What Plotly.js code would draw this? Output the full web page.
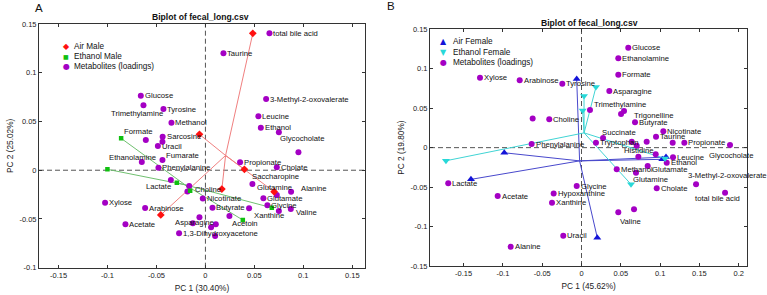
<!DOCTYPE html>
<html>
<head>
<meta charset="utf-8">
<script src="https://cdn.plot.ly/plotly-3.0.1.min.js"></script>
<style>
  html, body { margin: 0; padding: 0; background: #fff; }
  #chart { width: 767px; height: 295px; }
</style>
</head>
<body>
<div id="chart"></div>
<script>
// ---------- Panel A: male groups ----------
const metabNamesA = ["Glucose", "Trimethylamine", "Tyrosine", "Methanol", "Formate", "Sarcosine", "",
  "Uracil", "Fumarate", "Ethanolamine", "Phenylalanine", "Lactate", "Choline", "", "Xylose",
  "Arabinose", "Acetate", "1,3-Dihydroxyacetone", "Asparagine", "", "", "", "", "Nicotinate",
  "Butyrate", "Acetoin", "Xanthine", "Propionate", "Cholate", "", "Saccharopine", "Glutamine",
  "Alanine", "Glutamate", "Glycine", "Valine", "", "total bile acid", "Taurine",
  "3-Methyl-2-oxovalerate", "Leucine", "Ethanol", "Glycocholate"];
const metabPC1A = [-0.066, -0.0633, -0.0429, -0.0347, -0.0609, -0.0437, -0.0439,
  -0.0486, -0.0439, -0.065, -0.048, -0.0353, -0.0166, -0.0184, -0.1025,
  -0.0616, -0.0817, -0.0269, -0.0129, -0.0061, 0.0058, 0.0106, 0.0099, -0.0027,
  0.0072, 0.0245, 0.0446, 0.0354, 0.0729, 0.095, 0.048, 0.0729,
  0.0875, 0.0592, 0.0633, 0.0872, 0.075, 0.0654, 0.0184,
  0.062, 0.0541, 0.0566, 0.075];
const metabPC2A = [0.0764, 0.0666, 0.0628, 0.0487, 0.031, 0.0344, 0.0292,
  0.0248, 0.0105, 0.0084, 0.0026, -0.0101, -0.0162, -0.0218, -0.0333,
  -0.0388, -0.0555, -0.0647, -0.0545, -0.0483, -0.0586, -0.0555, -0.0675, -0.029,
  -0.0385, -0.047, -0.0391, 0.0081, 0.003, 0.0184, -0.0142, -0.0254,
  -0.0221, -0.0288, -0.036, -0.0398, -0.0418, 0.1404, 0.1199,
  0.073, 0.0553, 0.0436, 0.0389];

const airMalePC1 = [0.0484, -0.0061, 0.0398, 0.0168, 0.0702, -0.0456];
const airMalePC2 = [0.1404, 0.0368, 0.0009, -0.0193, -0.0221, -0.0459];
const ethMalePC1 = [-0.0861, -0.1001, -0.0292, -0.0156, 0.0678, 0.0382];
const ethMalePC2 = [0.0327, 0.0009, -0.0128, -0.021, -0.0385, -0.0511];

// ---------- Panel B: female groups ----------
const metabNamesB = ["Xylose", "Arabinose", "Tyrosine", "", "Choline", "Phenylalanine", "Lactate",
  "Acetate", "Hypoxanthine", "Xanthine", "Glycine", "Uracil", "Alanine", "Glucose", "Ethanolamine",
  "Formate", "Asparagine", "Trimethylamine", "Trigonelline", "", "Butyrate", "Nicotinate", "Taurine",
  "Succinate", "Tryptophan", "", "", "", "", "Propionate", "Glycocholate", "Histidine", "",
  "Leucine", "Ethanol", "Glutamate", "Methanol", "Glutamine", "Cholate", "3-Methyl-2-oxovalerate",
  "total bile acid", "Valine", ""];
const metabPC1B = [-0.1291, -0.0786, -0.0244, -0.0621, -0.041, -0.0634, -0.1695,
  -0.1066, -0.0354, -0.0375, -0.0061, -0.0232, -0.0901, 0.0595, 0.0468,
  0.0468, 0.0354, 0.0108, 0.0541, 0.0503, 0.0681, 0.1041, 0.0948,
  0.0274, 0.0184, 0.0639, 0.0702, 0.0829, 0.116, 0.1308, 0.1889, 0.0723, 0.0944,
  0.1164, 0.1084, 0.0842, 0.0448, 0.0693, 0.0957, 0.1457,
  0.1826, 0.0668, 0.0468];
const metabPC2B = [0.0886, 0.0853, 0.081, 0.0371, 0.0359, 0.0046, -0.0452,
  -0.0613, -0.0582, -0.0698, -0.0487, -0.1117, -0.1256, 0.1266, 0.1132,
  0.0924, 0.0717, 0.0477, 0.0464, 0.0426, 0.0321, 0.0207, 0.0138,
  0.0122, 0.0062, 0.0075, 0.0024, 0.0075, 0.0062, 0.0062, 0.0033, -0.0115, -0.0085,
  -0.0123, -0.0191, -0.0233, -0.0275, -0.0318, -0.0516, -0.0465,
  -0.0572, -0.0782, -0.082];

const airFemalePC1 = [-0.0061, -0.0982, -0.1406, 0.0201, 0.1028, 0.1075];
const airFemalePC2 = [0.0869, -0.0065, -0.0402, -0.1142, -0.0148, -0.0119];
const ethFemalePC1 = [-0.1724, 0.0184, 0.0015, 0.063, 0.1062, 0.0032];
const ethFemalePC2 = [-0.0166, 0.0768, 0.047, -0.0465, -0.0138, 0.0654];

// ---------- Axis labels ----------
const varExplainedA = ["30.40%", "25.02%"];
const varExplainedB = ["45.62%", "19.80%"];
const tickValsAx = [-0.15, -0.1, -0.05, 0, 0.05, 0.1, 0.15];
const tickTextAx = ["-0.15", "-0.1", "-0.05", "0", "0.05", "0.1", "0.15"];
const tickValsAy = [-0.1, -0.05, 0, 0.05, 0.1, 0.15];
const tickTextAy = ["-0.1", "-0.05", "0", "0.05", "0.1", "0.15"];
const tickValsBx = [-0.15, -0.1, -0.05, 0, 0.05, 0.1, 0.15, 0.2];
const tickTextBx = ["-0.15", "-0.1", "-0.05", "0", "0.05", "0.1", "0.15", "0.2"];
const tickValsBy = [-0.15, -0.1, -0.05, 0, 0.05, 0.1, 0.15];
const tickTextBy = ["-0.15", "-0.1", "-0.05", "0", "0.05", "0.1", "0.15"];

// ---------- Styling ----------
const FONT = "Liberation Sans, Arial, sans-serif";
const W = 767, H = 295;
const COL = {
  metab: "#a400c4",
  airMale: "#ff1010", airMaleLine: "#f08080",
  ethMale: "#10c010", ethMaleLine: "#70c070",
  airFemale: "#1414d8", airFemaleLine: "#4848cc",
  ethFemale: "#28d8d8", ethFemaleLine: "#40d4d4"
};

// label placement tweaks: [dx, dy (down), anchor]; default sits just right of the dot
const labelPlaceA = {
  "Trimethylamine": [-6, 8, "center"], "Formate": [-7, -9, "center"],
  "Fumarate": [3, -4, "left"], "Ethanolamine": [-9, -5, "center"],
  "Lactate": [1, 6, "right"], "Choline": [5, 3, "left"], "Acetoin": [2, 7, "left"],
  "Xanthine": [4, 7, "left"], "Saccharopine": [-1, -8, "left"],
  "Glutamine": [-2, -7, "center"], "Alanine": [9, -3, "left"], "Valine": [4, 3, "left"],
  "Asparagine": [2, -1, "center"], "Glycocholate": [0, 6, "left"]
};
const labelPlaceB = {
  "Trimethylamine": [3, -6, "left"], "Trigonelline": [9, 4, "left"],
  "Succinate": [-2, -6, "left"], "Glycocholate": [1, 10, "center"],
  "Histidine": [0, -6, "center"], "Glutamate": [3, 3, "left"],
  "Glutamine": [-4, 7, "left"], "3-Methyl-2-oxovalerate": [-9, -9, "left"],
  "total bile acid": [-8, 6, "center"], "Valine": [-4, 12, "center"]
};

// spokes from a group's mean score to each of its samples
function spokes(xs, ys) {
  const mx = xs.reduce((a, b) => a + b, 0) / xs.length;
  const my = ys.reduce((a, b) => a + b, 0) / ys.length;
  const sx = [], sy = [];
  xs.forEach((x, i) => { sx.push(mx, x, null); sy.push(my, ys[i], null); });
  return { x: sx, y: sy };
}

function groupTraces(xs, ys, xa, ya, lineColor, markerColor, symbol, size) {
  const s = spokes(xs, ys);
  return [
    { x: s.x, y: s.y, xaxis: xa, yaxis: ya, mode: "lines", type: "scatter",
      line: { color: lineColor, width: 1 }, hoverinfo: "skip", showlegend: false },
    { x: xs, y: ys, xaxis: xa, yaxis: ya, mode: "markers", type: "scatter",
      marker: { symbol: symbol, size: size, color: markerColor }, showlegend: false }
  ];
}

function metabTrace(xs, ys, names, xa, ya) {
  return { x: xs, y: ys, text: names, xaxis: xa, yaxis: ya, mode: "markers", type: "scatter",
    marker: { symbol: "circle", size: 6, color: COL.metab }, showlegend: false };
}

function labelAnnots(xs, ys, names, xa, ya, place) {
  const out = [];
  names.forEach((n, i) => {
    if (!n) return;
    const p = place[n] || [3, 0, "left"];
    out.push({ x: xs[i], y: ys[i], xref: xa, yref: ya, text: n, showarrow: false,
      xanchor: p[2], yanchor: "middle", xshift: p[0], yshift: -p[1], borderpad: 0,
      font: { family: FONT, size: 7.7, color: "#111" } });
  });
  return out;
}

function px(x) { return x / W; }
function py(y) { return 1 - y / H; }

function legendAnnots(mx, tx, rows) {
  const out = [];
  rows.forEach(r => {
    out.push({ x: px(mx), y: py(r.y), xref: "paper", yref: "paper", text: r.glyph, showarrow: false,
      xanchor: "center", yanchor: "middle", borderpad: 0,
      font: { family: "DejaVu Sans", size: r.gsize, color: r.color } });
    out.push({ x: px(tx), y: py(r.y), xref: "paper", yref: "paper", text: r.label, showarrow: false,
      xanchor: "left", yanchor: "middle", borderpad: 0,
      font: { family: FONT, size: 8.2, color: "#111" } });
  });
  return out;
}

const traces = [
  ...groupTraces(airMalePC1, airMalePC2, "x", "y", COL.airMaleLine, COL.airMale, "diamond", 6),
  ...groupTraces(ethMalePC1, ethMalePC2, "x", "y", COL.ethMaleLine, COL.ethMale, "square", 4.5),
  ...groupTraces(airFemalePC1, airFemalePC2, "x2", "y2", COL.airFemaleLine, COL.airFemale, "triangle-up", 7),
  ...groupTraces(ethFemalePC1, ethFemalePC2, "x2", "y2", COL.ethFemaleLine, COL.ethFemale, "triangle-down", 7)
];
// metabolites sit beneath the group markers but above the spokes
traces.splice(4, 0, metabTrace(metabPC1A, metabPC2A, metabNamesA, "x", "y"));
traces.splice(0, 0);
traces.push(metabTrace(metabPC1B, metabPC2B, metabNamesB, "x2", "y2"));
// re-order so panel B group markers draw last
const ordered = [traces[0], traces[2], traces[4], traces[1], traces[3],
  traces[5], traces[7], traces[9], traces[6], traces[8]];

function axis(extra) {
  return Object.assign({
    showgrid: false, zeroline: false, showline: true, mirror: "ticks",
    linecolor: "#333", linewidth: 1, ticks: "inside", ticklen: 3, tickcolor: "#333",
    tickmode: "array", tickfont: { family: FONT, size: 7.5, color: "#222" },
    fixedrange: true
  }, extra);
}

function zeroLines(xa, ya) {
  const d = { color: "#555", width: 1, dash: "5px,3px" };
  return [
    { type: "line", xref: xa, yref: ya + " domain", x0: 0, x1: 0, y0: 0, y1: 1, line: d, layer: "below" },
    { type: "line", xref: xa + " domain", yref: ya, x0: 0, x1: 1, y0: 0, y1: 0, line: d, layer: "below" }
  ];
}

const titleFont = { family: FONT, size: 8.6, color: "#111", weight: "bold" };
const annotations = [
  { x: px(201), y: py(16.7), xref: "paper", yref: "paper", text: "<b>Biplot of fecal_long.csv</b>",
    showarrow: false, xanchor: "center", yanchor: "middle", font: titleFont },
  { x: px(589), y: py(22.7), xref: "paper", yref: "paper", text: "<b>Biplot of fecal_long.csv</b>",
    showarrow: false, xanchor: "center", yanchor: "middle", font: titleFont },
  { x: px(39), y: py(8), xref: "paper", yref: "paper", text: "A", showarrow: false,
    xanchor: "center", yanchor: "middle", font: { family: FONT, size: 11.5, color: "#111" } },
  { x: px(391), y: py(6.5), xref: "paper", yref: "paper", text: "B", showarrow: false,
    xanchor: "center", yanchor: "middle", font: { family: FONT, size: 11.5, color: "#111" } },
  ...legendAnnots(66, 72.7, [
    { y: 46.3, glyph: "◆", gsize: 8, color: COL.airMale, label: "Air Male" },
    { y: 56.7, glyph: "■", gsize: 6, color: COL.ethMale, label: "Ethanol Male" },
    { y: 66.7, glyph: "●", gsize: 8, color: COL.metab, label: "Metabolites (loadings)" }
  ]),
  ...legendAnnots(444, 451.7, [
    { y: 41.7, glyph: "▲", gsize: 8, color: COL.airFemale, label: "Air Female" },
    { y: 52.3, glyph: "▼", gsize: 8, color: COL.ethFemale, label: "Ethanol Female" },
    { y: 62.7, glyph: "●", gsize: 8, color: COL.metab, label: "Metabolites (loadings)" }
  ]),
  ...labelAnnots(metabPC1A, metabPC2A, metabNamesA, "x", "y", labelPlaceA),
  ...labelAnnots(metabPC1B, metabPC2B, metabNamesB, "x2", "y2", labelPlaceB)
];

const axTitleFont = { family: FONT, size: 8.3, color: "#222" };
const layout = {
  width: W, height: H,
  margin: { l: 0, r: 0, t: 0, b: 0 },
  paper_bgcolor: "#fff", plot_bgcolor: "#fff",
  showlegend: false,
  font: { family: FONT },
  xaxis: axis({ domain: [px(39), px(365)], range: [-0.17, 0.163], anchor: "y",
    tickvals: tickValsAx, ticktext: tickTextAx,
    title: { text: "PC 1 (" + varExplainedA[0] + ")", font: axTitleFont, standoff: 6 } }),
  yaxis: axis({ domain: [py(267.7), py(24)], range: [-0.1, 0.15], anchor: "x",
    tickvals: tickValsAy, ticktext: tickTextAy,
    title: { text: "PC 2 (" + varExplainedA[1] + ")", font: axTitleFont, standoff: 4 } }),
  xaxis2: axis({ domain: [px(430), px(747.3)], range: [-0.1927, 0.2109], anchor: "y2",
    tickvals: tickValsBx, ticktext: tickTextBx,
    title: { text: "PC 1 (" + varExplainedB[0] + ")", font: axTitleFont, standoff: 6 } }),
  yaxis2: axis({ domain: [py(266), py(29.3)], range: [-0.15, 0.15], anchor: "x2",
    tickvals: tickValsBy, ticktext: tickTextBy,
    title: { text: "PC 2 (" + varExplainedB[1] + ")", font: axTitleFont, standoff: 4 } }),
  shapes: [...zeroLines("x", "y"), ...zeroLines("x2", "y2")],
  annotations: annotations
};

Plotly.newPlot("chart", ordered, layout, { displayModeBar: false, staticPlot: true });
</script>
</body>
</html>
